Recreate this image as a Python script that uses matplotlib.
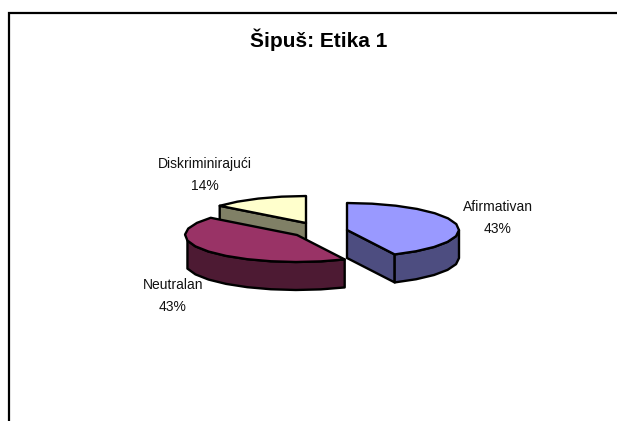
import numpy as np
import matplotlib
matplotlib.use("Agg")
import matplotlib.pyplot as plt
from matplotlib.patches import Polygon

plt.rcParams['font.family'] = ['Liberation Sans', 'DejaVu Sans']

#data
title = 'Šipuš: Etika 1'
labels = ['Afirmativan', 'Neutralan', 'Diskriminirajući']
values = [43, 43, 14]
top_colors = ['#9999FF', '#993366', '#FFFFCC']
side_colors = ['#4D4D80', '#4D1A33', '#808066']

#layout, all in image pixels
apex = [(347, 230), (297, 235), (306, 223)]
label_pos = [(498, 218), (173, 296), (205, 175)]
rx = 112
ry = 27
depth = 28
step = np.radians(14)  #the original outline is made of short straight pieces

fig = plt.figure(figsize=(6.17, 4.21), dpi=100)
ax = fig.add_axes([0, 0, 1, 1])
ax.set_xlim(0, 617)
ax.set_ylim(421, 0)
ax.axis('off')

#chart frame runs off the right and bottom of the image
ax.plot([9, 9, 640], [440, 12.5, 12.5], color='black', lw=1.6, solid_joinstyle='miter')


def rim(c, t):
    return np.column_stack([c[0] + rx * np.sin(t), c[1] - ry * np.cos(t)])


def draw_wall(pts, color):
    low = pts + [0, depth]
    ax.add_patch(Polygon(np.vstack([pts, low[::-1]]), closed=True, fc=color,
                         ec='black', lw=1.7, joinstyle='round'))


#angles run clockwise from 12 o'clock
edges = np.cumsum([0] + values) / sum(values) * 2 * np.pi

#back slices first so the front ones paint over them
for i in [2, 1, 0]:
    t0, t1 = edges[i], edges[i + 1]
    c = apex[i]
    t = np.linspace(t0, t1, int((t1 - t0) / step) + 2)
    outer = rim(c, t)
    centre = np.array([c], dtype=float)

    if np.sin(t0) < -1e-6:
        draw_wall(np.vstack([centre, outer[:1]]), side_colors[i])
    if np.sin(t1) > 1e-6:
        draw_wall(np.vstack([centre, outer[-1:]]), side_colors[i])
    front = (t >= np.pi / 2) & (t <= 3 * np.pi / 2)
    if front.any():
        draw_wall(outer[front], side_colors[i])

    ax.add_patch(Polygon(np.vstack([centre, outer]), closed=True, fc=top_colors[i],
                         ec='black', lw=1.7, joinstyle='round'))

    pct = values[i]
    ax.text(label_pos[i][0], label_pos[i][1], f'{labels[i]}\n{pct}%', ha='center', va='center',
            fontsize=10, linespacing=1.8, color='#111111')

ax.text(319, 39.5, title, ha='center', va='center', fontsize=15, fontweight='bold', color='black')

fig.savefig('out.png', dpi=100)
